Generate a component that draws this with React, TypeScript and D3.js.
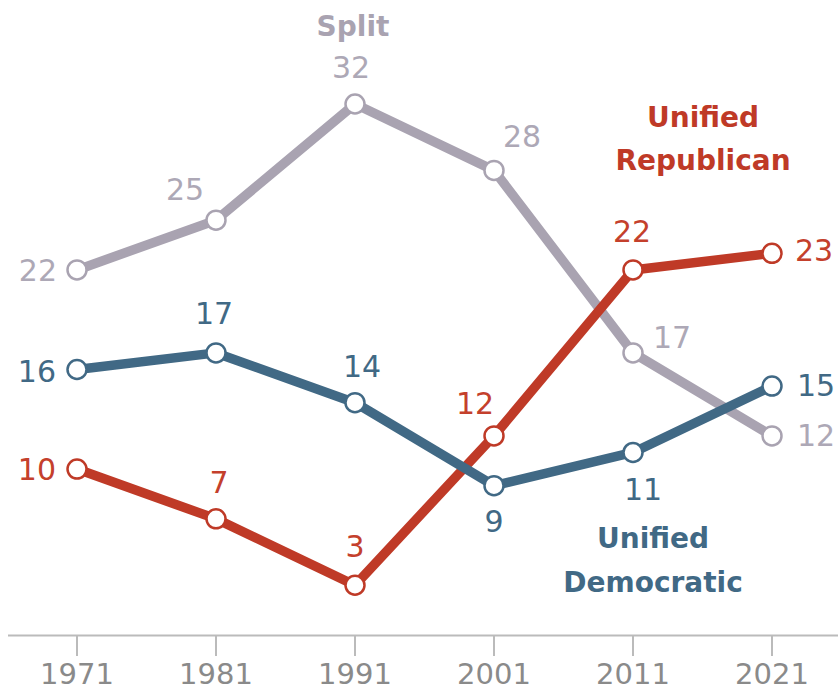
import React from "react";
import * as d3 from "d3";

const years = [1971, 1981, 1991, 2001, 2011, 2021];
const splitValues = [22, 25, 32, 28, 17, 12];
const republicanValues = [10, 7, 3, 12, 22, 23];
const democraticValues = [16, 17, 14, 9, 11, 15];
const seriesNames = ["Split", "Unified Republican", "Unified Democratic"];

// label placement (styling only): [dx, dy, anchor]
type Place = [number, number, "start" | "middle" | "end"];
const splitPlace: Place[] = [[-20, 11, "end"], [-31, -20, "middle"], [-4, -26, "middle"], [28, -23, "middle"], [20, -5, "start"], [25, 10, "start"]];
const repPlace: Place[] = [[-21, 11, "end"], [3, -26, "middle"], [0, -28, "middle"], [-19, -22, "middle"], [-1, -28, "middle"], [23, 8, "start"]];
const demPlace: Place[] = [[-21, 12, "end"], [-2, -29, "middle"], [7, -26, "middle"], [0, 46, "middle"], [10, 48, "middle"], [25, 10, "start"]];

const W = 838;
const H = 691;

export default function App() {
  const x = d3.scalePoint<number>().domain(years).range([77, 772]);
  const y = d3.scaleLinear().domain([0, 32]).range([635, 104]);
  const line = d3
    .line<number>()
    .x((_, i) => x(years[i]) as number)
    .y((v) => y(v));

  const series = [
    { name: seriesNames[0], values: splitValues, place: splitPlace, color: "#A9A3B1", label: "#ADA8B6" },
    { name: seriesNames[1], values: republicanValues, place: repPlace, color: "#BF3A27", label: "#C4402C" },
    { name: seriesNames[2], values: democraticValues, place: demPlace, color: "#416985", label: "#416985" },
  ];

  const font = "'DejaVu Sans', sans-serif";

  return (
    <svg width={W} height={H} style={{ position: "absolute", left: 0, top: 0, background: "#fff" }} fontFamily={font}>
      {/* axis */}
      <line x1={8} x2={838} y1={635.5} y2={635.5} stroke="#BBBBBB" strokeWidth={2} />
      {years.map((yr) => (
        <g key={yr}>
          <line x1={x(yr)} x2={x(yr)} y1={636} y2={656} stroke="#BBBBBB" strokeWidth={2} />
          <text x={x(yr)} y={684} textAnchor="middle" fontSize={29} fill="#8A8A8A">
            {yr}
          </text>
        </g>
      ))}

      {series.map((s) => (
        <g key={s.name}>
          <path d={line(s.values) || ""} fill="none" stroke={s.color} strokeWidth={9.5} strokeLinejoin="round" strokeLinecap="round" />
        </g>
      ))}
      {series.map((s) => (
        <g key={s.name + "-pts"}>
          {s.values.map((v, i) => (
            <circle key={i} cx={x(years[i])} cy={y(v)} r={9.5} fill="#fff" stroke={s.color} strokeWidth={2.5} />
          ))}
          {s.values.map((v, i) => (
            <text
              key={"t" + i}
              x={(x(years[i]) as number) + s.place[i][0]}
              y={y(v) + s.place[i][1]}
              textAnchor={s.place[i][2]}
              fontSize={30}
              fill={s.label}
            >
              {v}
            </text>
          ))}
        </g>
      ))}

      {/* series titles */}
      <text x={353} y={36} textAnchor="middle" fontSize={28} fontWeight="bold" fill="#A9A3B1">
        Split
      </text>
      <text x={703} y={127} textAnchor="middle" fontSize={28} fontWeight="bold" fill="#BF3A27">
        <tspan x={703} dy={0}>Unified</tspan>
        <tspan x={703} dy={43}>Republican</tspan>
      </text>
      <text x={653} y={548} textAnchor="middle" fontSize={28} fontWeight="bold" fill="#416985">
        <tspan x={653} dy={0}>Unified</tspan>
        <tspan x={653} dy={44}>Democratic</tspan>
      </text>
    </svg>
  );
}
